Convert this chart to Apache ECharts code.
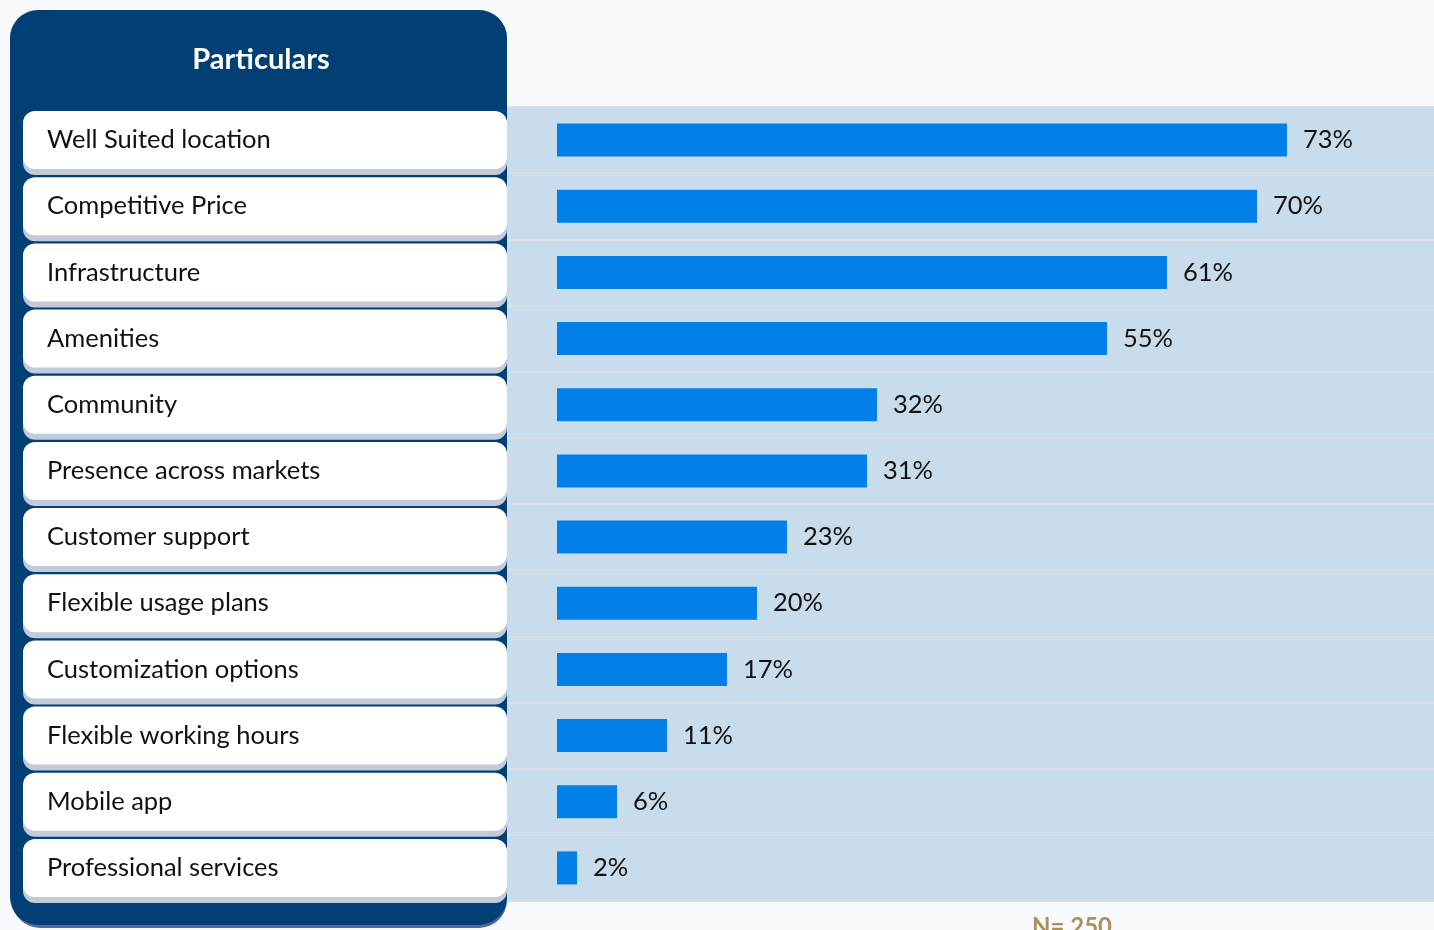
<!DOCTYPE html>
<html><head><meta charset="utf-8">
<script src="https://cdn.jsdelivr.net/npm/echarts@6/dist/echarts.min.js"></script>
<style>html,body{margin:0;padding:0;background:#F9FAFD;}#c{width:1434px;height:930px;}</style>
</head><body><div id="c"></div>
<script>
const categories = ["Well Suited location","Competitive Price","Infrastructure","Amenities","Community","Presence across markets","Customer support","Flexible usage plans","Customization options","Flexible working hours","Mobile app","Professional services"];
const values = [73,70,61,55,32,31,23,20,17,11,6,2];
const headerText = "Particulars";
const noteText = "N= 250";

const chart = echarts.init(document.getElementById('c'));
const FONT = 'Lato, "Noto Sans", sans-serif';
chart.setOption({
  backgroundColor: '#F9FAFD',
  animation: false,
  graphic: [
    {type:'rect', z:-2, shape:{x:12,y:13,width:495,height:915,r:28}, style:{fill:'#56659A'}},
    {type:'rect', z:-1, shape:{x:10,y:10,width:497,height:915,r:28}, style:{fill:'#023F75'}},
    {type:'text', z:5, style:{text:headerText, x:261, y:60, align:'center', verticalAlign:'middle', fill:'#ffffff', font:'bold 29px ' + FONT}},
    {type:'text', z:5, style:{text:noteText, x:1072, y:915, align:'center', verticalAlign:'top', fill:'#A8915A', font:'bold 24px ' + FONT}}
  ],
  grid: {left:507, right:0, top:107, bottom:29, show:true, backgroundColor:'#C9DCEB', borderWidth:0},
  xAxis: {type:'value', min:-5, max:87.7, show:false},
  yAxis: {
    type:'category', data:categories, inverse:true,
    axisLine:{show:false}, axisTick:{show:false},
    splitLine:{show:true, lineStyle:{color:'#DBDFE3', width:2}},
    axisLabel:{
      margin:484, align:'left', verticalAlign:'middle',
      color:'#111111', fontFamily:FONT, fontSize:25.5,
      backgroundColor:'#ffffff', borderRadius:12,
      width:460, height:58, lineHeight:58, padding:[0,0,0,24],
      shadowColor:'#C3CAD8', shadowOffsetY:6, shadowBlur:0
    }
  },
  series: [{
    type:'bar', data:values, barWidth:33,
    itemStyle:{color:'#0080E8'},
    label:{show:true, position:'right', distance:16, formatter:'{c}%', color:'#111111', fontFamily:FONT, fontSize:25.5}
  }]
});
</script></body></html>
